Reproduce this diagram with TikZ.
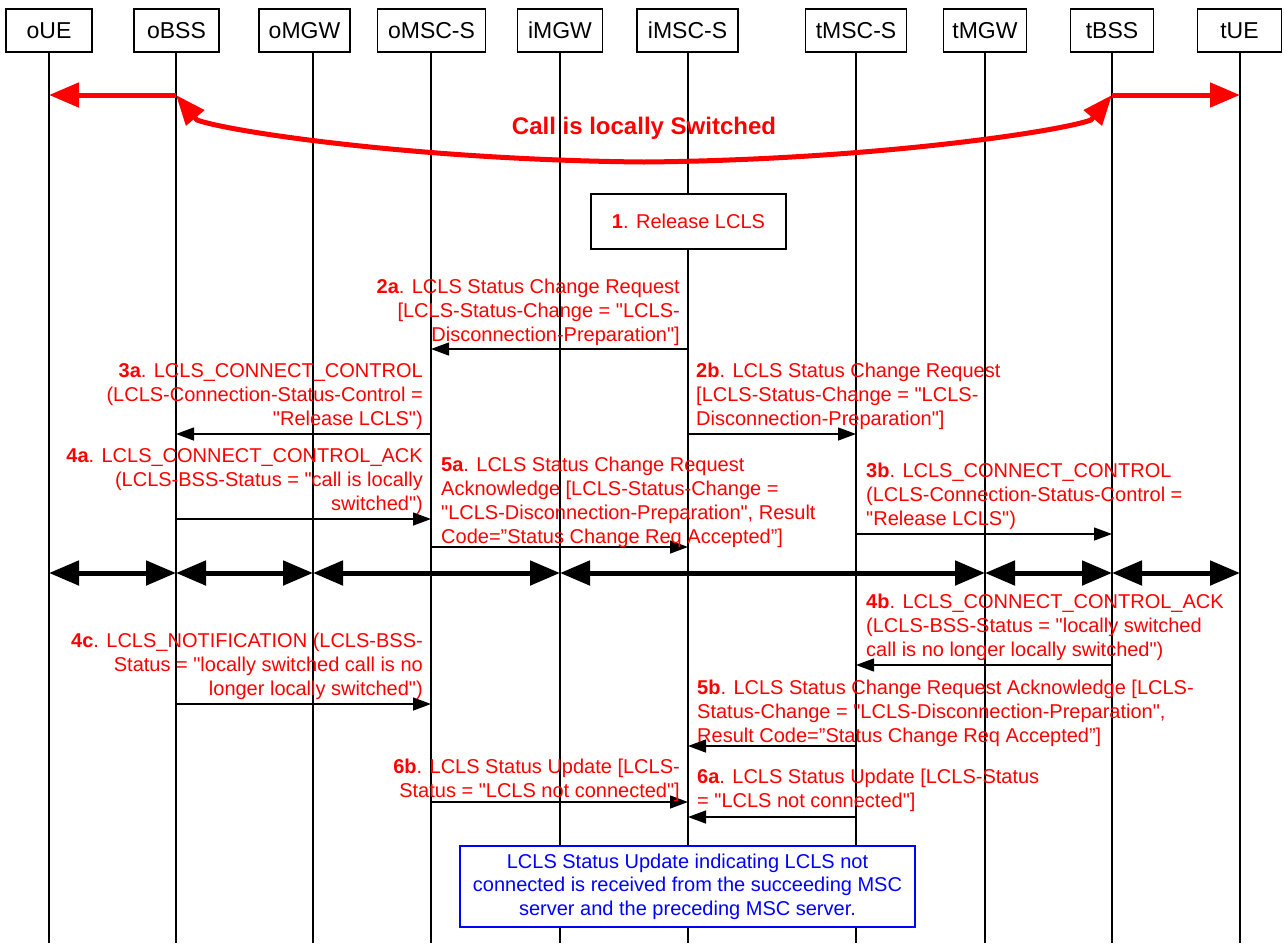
\documentclass[tikz,border=0pt]{standalone}
\usepackage{fontspec}
\setmainfont{Liberation Sans}[Ligatures=TeXOff]
\usetikzlibrary{arrows.meta}
\definecolor{lred}{RGB}{255,0,0}
\definecolor{lblue}{RGB}{0,0,255}
\tikzset{
  entity/.style={draw, line width=1.2pt, minimum height=43pt, inner sep=0pt, font=\fontsize{23}{27}\selectfont},
  life/.style={line width=1.2pt},
  msg/.style={line width=1.3pt, -{Triangle[length=18pt,width=13pt]}},
  bigred/.style={draw=lred, line width=5pt, -{Triangle[length=30pt,width=24pt]}},
  bigblack/.style={line width=5pt, {Triangle[length=30pt,width=24pt]}-{Triangle[length=30pt,width=24pt]}},
  lbl/.style={text=lred, inner sep=0pt, font=\fontsize{20}{24}\selectfont},
  lblR/.style={lbl, align=right, anchor=base east},
  lblL/.style={lbl, align=left, anchor=base west},
}
\begin{document}
\begin{tikzpicture}[x=1pt,y=-1pt]
\useasboundingbox (0,0) rectangle (1284,943);
% entities
\node[entity, minimum width=86pt]  (oUE)  at (49,30.5) {oUE};
\node[entity, minimum width=85pt]  (oBSS) at (176.5,30.5) {oBSS};
\node[entity, minimum width=91pt]  (oMGW) at (304.5,30.5) {oMGW};
\node[entity, minimum width=108pt] (oMSC) at (431.5,30.5) {oMSC-S};
\node[entity, minimum width=85pt]  (iMGW) at (560,30.5) {iMGW};
\node[entity, minimum width=101pt] (iMSC) at (687.5,30.5) {iMSC-S};
\node[entity, minimum width=101pt] (tMSC) at (856,30.5) {tMSC-S};
\node[entity, minimum width=83pt]  (tMGW) at (985,30.5) {tMGW};
\node[entity, minimum width=83pt]  (tBSS) at (1112,30.5) {tBSS};
\node[entity, minimum width=84pt]  (tUE)  at (1239.5,30.5) {tUE};
% lifeline coordinates
\coordinate (LoUE) at (49,52);
\coordinate (LoBSS) at (176,52);
\coordinate (LoMGW) at (313,52);
\coordinate (LoMSC) at (431,52);
\coordinate (LiMGW) at (560,52);
\coordinate (LiMSC) at (688,52);
\coordinate (LtMSC) at (856,52);
\coordinate (LtMGW) at (985,52);
\coordinate (LtBSS) at (1112,52);
\coordinate (LtUE) at (1240,52);
\foreach \l in {LoUE,LoBSS,LoMGW,LoMSC,LiMGW,LiMSC,LtMSC,LtMGW,LtBSS,LtUE}
  \draw[life] (\l) -- (\l |- 0,943);
% locally switched call
\draw[bigred] (LoBSS |- 0,95) -- (LoUE |- 0,95);
\draw[bigred] (LtBSS |- 0,95) -- (LtUE |- 0,95);
\coordinate (cL) at (197,120);
\coordinate (cM) at (644,162);
\coordinate (cR) at (1091,120);
\draw[draw=lred, line width=5pt, line join=round, {Triangle[length=30pt,width=23pt]}-{Triangle[length=30pt,width=23pt]}]
  (LoBSS |- 0,95) -- (cL) .. controls (230,132) and (420,160) .. (cM)
  .. controls (868,160) and (1058,132) .. (cR) -- (LtBSS |- 0,95);
\node[text=lred, font=\bfseries\fontsize{24}{28}\selectfont] (callsw) at (644,128) {Call is locally Switched};
% step 1
\node[draw, line width=1.2pt, minimum width=195pt, minimum height=55pt, fill=white, lbl] (rel) at (688.5,221.5) {\textbf{1}. Release LCLS};
% 2a
\draw[msg] (LiMSC |- 0,349) -- (LoMSC |- 0,349);
\node[lblR] (t2a) at (680,341) {\textbf{2a}. LCLS Status Change Request\\{}[LCLS-Status-Change = "LCLS-\\Disconnection-Preparation"]};
% 3a
\draw[msg] (LoMSC |- 0,434) -- (LoBSS |- 0,434);
\node[lblR] (t3a) at (423,425) {\textbf{3a}. LCLS\_CONNECT\_CONTROL\\(LCLS-Connection-Status-Control =\\"Release LCLS")};
% 2b
\draw[msg] (LiMSC |- 0,434) -- (LtMSC |- 0,434);
\node[lblL] (t2b) at (696,425) {\textbf{2b}. LCLS Status Change Request\\{}[LCLS-Status-Change = "LCLS-\\Disconnection-Preparation"]};
% 4a
\draw[msg] (LoBSS |- 0,519) -- (LoMSC |- 0,519);
\node[lblR] (t4a) at (423,510) {\textbf{4a}. LCLS\_CONNECT\_CONTROL\_ACK\\(LCLS-BSS-Status = "call is locally\\switched")};
% 5a
\draw[msg] (LoMSC |- 0,547) -- (LiMSC |- 0,547);
\node[lblL] (t5a) at (441,543) {\textbf{5a}. LCLS Status Change Request\\Acknowledge [LCLS-Status-Change =\\"LCLS-Disconnection-Preparation", Result\\Code=”Status Change Req Accepted”]};
% 3b
\draw[msg] (LtMSC |- 0,534) -- (LtBSS |- 0,534);
\node[lblL] (t3b) at (866,525) {\textbf{3b}. LCLS\_CONNECT\_CONTROL\\(LCLS-Connection-Status-Control =\\"Release LCLS")};
% bearer
\draw[bigblack] (LoUE |- 0,573) -- (LoBSS |- 0,573);
\draw[bigblack] (LoBSS |- 0,573) -- (LoMGW |- 0,573);
\draw[bigblack] (LoMGW |- 0,573) -- (LiMGW |- 0,573);
\draw[bigblack] (LiMGW |- 0,573) -- (LtMGW |- 0,573);
\draw[bigblack] (LtMGW |- 0,573) -- (LtBSS |- 0,573);
\draw[bigblack] (LtBSS |- 0,573) -- (LtUE |- 0,573);
% 4b
\draw[msg] (LtBSS |- 0,665) -- (LtMSC |- 0,665);
\node[lblL] (t4b) at (866,656) {\textbf{4b}. LCLS\_CONNECT\_CONTROL\_ACK\\(LCLS-BSS-Status = "locally switched\\call is no longer locally switched")};
% 4c
\draw[msg] (LoBSS |- 0,704) -- (LoMSC |- 0,704);
\node[lblR] (t4c) at (423,695) {\textbf{4c}. LCLS\_NOTIFICATION (LCLS-BSS-\\Status = "locally switched call is no\\longer locally switched")};
% 5b
\draw[msg] (LtMSC |- 0,746) -- (LiMSC |- 0,746);
\node[lblL] (t5b) at (697,742) {\textbf{5b}. LCLS Status Change Request Acknowledge [LCLS-\\Status-Change = "LCLS-Disconnection-Preparation",\\Result Code=”Status Change Req Accepted”]};
% 6b
\draw[msg] (LoMSC |- 0,802) -- (LiMSC |- 0,802);
\node[lblR] (t6b) at (680,797) {\textbf{6b}. LCLS Status Update [LCLS-\\Status = "LCLS not connected"]};
% 6a
\draw[msg] (LtMSC |- 0,817) -- (LiMSC |- 0,817);
\node[lblL] (t6a) at (697,807) {\textbf{6a}. LCLS Status Update [LCLS-Status\\= "LCLS not connected"]};
% note
\node[draw=lblue, line width=1.2pt, fill=white, text=lblue, minimum width=455pt, minimum height=81pt, align=center, inner sep=0pt, font=\fontsize{20}{23.5}\selectfont] (note) at (687.5,886.5)
  {LCLS Status Update indicating LCLS not\\connected is received from the succeeding MSC\\server and the preceding MSC server.};
\end{tikzpicture}
\end{document}
